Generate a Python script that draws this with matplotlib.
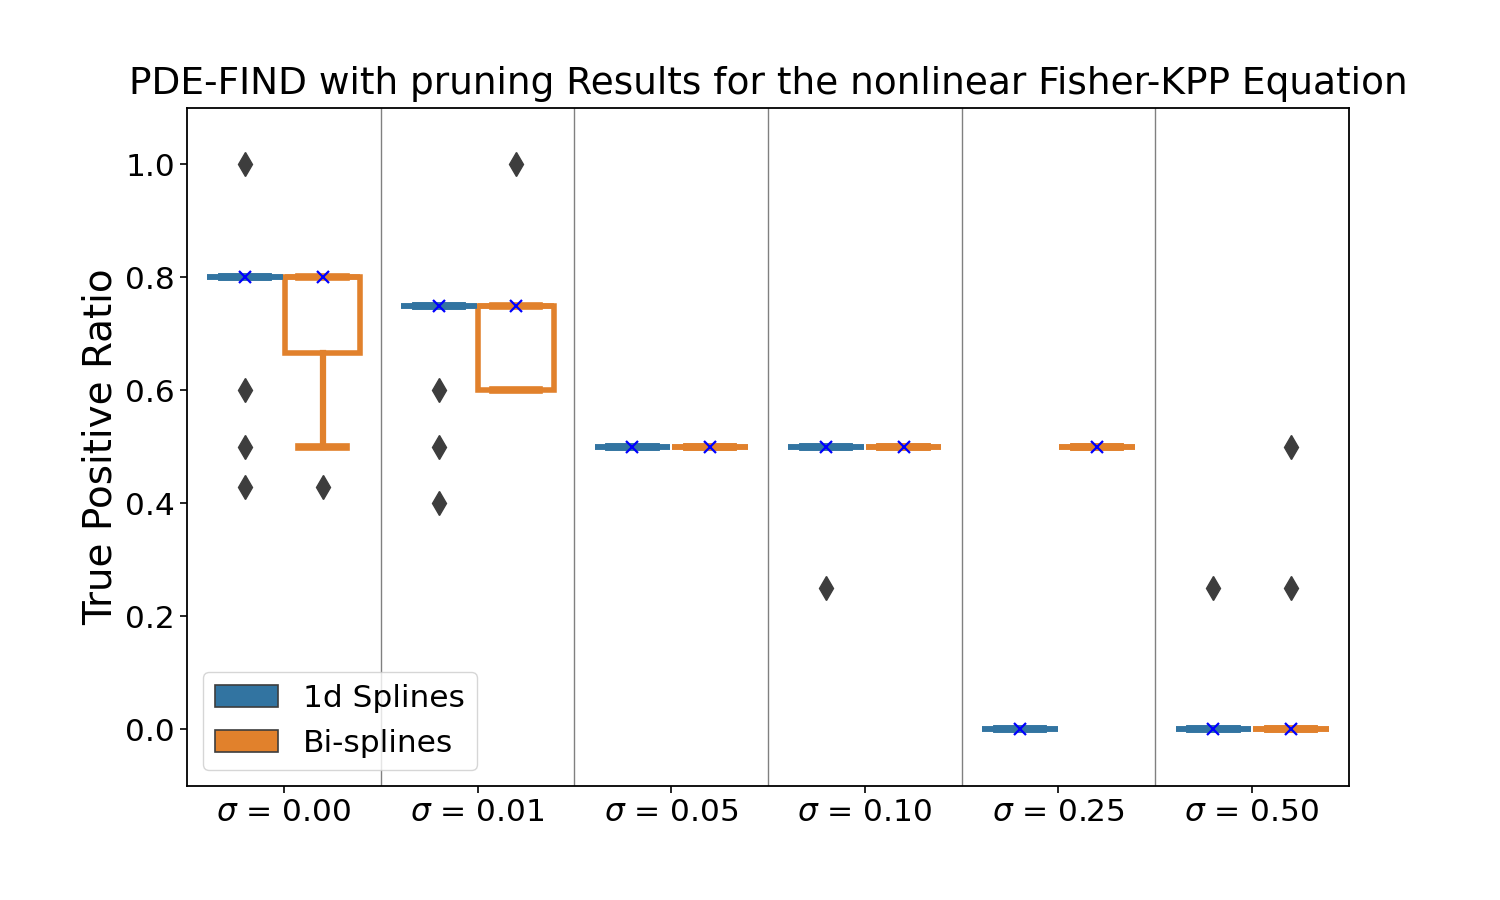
import matplotlib
matplotlib.use("Agg")
import matplotlib.pyplot as plt
from matplotlib.patches import Patch
import numpy as np

# noise levels
sigmas = ["0.00", "0.01", "0.05", "0.10", "0.25", "0.50"]

# 1d splines box stats
q1_1d = [0.8, 0.75, 0.5, 0.5, 0.0, 0.0]
med_1d = [0.8, 0.75, 0.5, 0.5, 0.0, 0.0]
q3_1d = [0.8, 0.75, 0.5, 0.5, 0.0, 0.0]
whislo_1d = [0.8, 0.75, 0.5, 0.5, 0.0, 0.0]
whishi_1d = [0.8, 0.75, 0.5, 0.5, 0.0, 0.0]
mark_1d = [0.8, 0.75, 0.5, 0.5, 0.0, 0.0]
fliers_1d = [[1.0, 0.6, 0.5, 0.43], [0.6, 0.5, 0.4], [], [0.25], [], [0.25]]

# bi-splines box stats
q1_bi = [0.667, 0.6, 0.5, 0.5, 0.5, 0.0]
med_bi = [0.8, 0.75, 0.5, 0.5, 0.5, 0.0]
q3_bi = [0.8, 0.75, 0.5, 0.5, 0.5, 0.0]
whislo_bi = [0.5, 0.6, 0.5, 0.5, 0.5, 0.0]
whishi_bi = [0.8, 0.75, 0.5, 0.5, 0.5, 0.0]
mark_bi = [0.8, 0.75, 0.5, 0.5, 0.5, 0.0]
fliers_bi = [[0.43], [1.0], [], [], [], [0.25, 0.5]]

blue = "#3274a1"
orange = "#e1812c"


def make_stats(q1, med, q3, lo, hi, mark, fliers):
    stats = []
    for i in range(len(q1)):
        stats.append({"q1": q1[i], "med": med[i], "q3": q3[i],
                      "whislo": lo[i], "whishi": hi[i],
                      "mean": mark[i], "fliers": fliers[i]})
    return stats


def draw_boxes(ax, stats, positions, color):
    ax.bxp(stats, positions=positions, widths=0.39, capwidths=0.24,
           patch_artist=True, showmeans=True, manage_ticks=False,
           boxprops=dict(facecolor="white", edgecolor=color, linewidth=4),
           whiskerprops=dict(color=color, linewidth=4.5),
           capprops=dict(color=color, linewidth=5.5),
           medianprops=dict(color=color, linewidth=4),
           meanprops=dict(marker="x", markeredgecolor="blue", markersize=8.5,
                          markeredgewidth=1.6, zorder=5),
           flierprops=dict(marker="d", markerfacecolor="#3d3d3d",
                           markeredgecolor="#3d3d3d", markersize=12))


fig = plt.figure(figsize=(15, 9), dpi=100)
ax = fig.add_axes([0.1247, 0.1267, 0.7746, 0.7533])

x = np.arange(len(sigmas))
draw_boxes(ax, make_stats(q1_1d, med_1d, q3_1d, whislo_1d, whishi_1d, mark_1d, fliers_1d), x - 0.2, blue)
draw_boxes(ax, make_stats(q1_bi, med_bi, q3_bi, whislo_bi, whishi_bi, mark_bi, fliers_bi), x + 0.2, orange)

# separators between groups
for xs in x[:-1] + 0.5:
    ax.axvline(xs, color="gray", linewidth=1, zorder=0)

ax.set_xlim(-0.5, len(sigmas) - 0.5)
ax.set_ylim(-0.1, 1.1)
ax.set_xticks(x)
ax.set_xticklabels([f"$\\sigma$ = {s}" for s in sigmas])
ax.set_yticks([0.0, 0.2, 0.4, 0.6, 0.8, 1.0])
ax.tick_params(labelsize=22.5, length=5, width=1.2)
for sp in ax.spines.values():
    sp.set_linewidth(1.3)

ax.set_ylabel("True Positive Ratio", fontsize=28)
ax.set_title("PDE-FIND with pruning Results for the nonlinear Fisher-KPP Equation", fontsize=27, pad=10)

handles = [Patch(facecolor=blue, edgecolor="#3d3d3d", linewidth=1.2, label="1d Splines"),
           Patch(facecolor=orange, edgecolor="#3d3d3d", linewidth=1.2, label="Bi-splines")]
ax.legend(handles=handles, loc="lower left", fontsize=22.5)

fig.savefig("out.png", dpi=100)
